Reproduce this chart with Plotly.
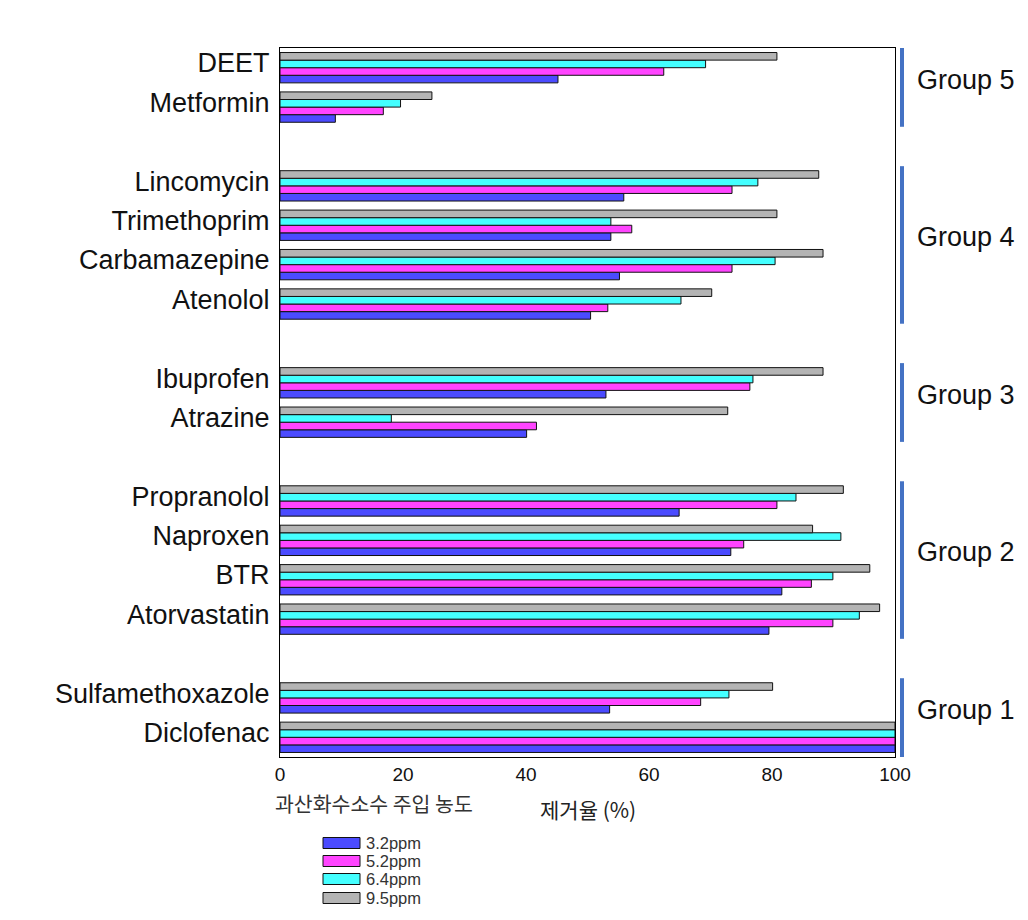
import plotly.graph_objects as go

# ---- data ----
compounds = ["Diclofenac", "Sulfamethoxazole",
             "Atorvastatin", "BTR", "Naproxen", "Propranolol",
             "Atrazine", "Ibuprofen",
             "Atenolol", "Carbamazepine", "Trimethoprim", "Lincomycin",
             "Metformin", "DEET"]
group_of = [1, 1, 2, 2, 2, 2, 3, 3, 4, 4, 4, 4, 5, 5]
group_names = ["Group 1", "Group 2", "Group 3", "Group 4", "Group 5"]

series_names = ["3.2ppm", "5.2ppm", "6.4ppm", "9.5ppm"]
v32 = [100, 53.6, 79.5, 81.6, 73.3, 64.9, 40.1, 53.0, 50.5, 55.2, 53.8, 55.9, 9.0, 45.2]
v52 = [100, 68.4, 89.9, 86.4, 75.4, 80.8, 41.7, 76.4, 53.3, 73.5, 57.2, 73.5, 16.8, 62.4]
v64 = [100, 73.0, 94.2, 89.9, 91.2, 83.9, 18.1, 76.9, 65.2, 80.5, 53.8, 77.7, 19.6, 69.2]
v95 = [100, 80.1, 97.5, 95.9, 86.6, 91.6, 72.8, 88.3, 70.2, 88.3, 80.8, 87.6, 24.7, 80.8]
series_values = [v32, v52, v64, v95]
x_ticks = [0, 20, 40, 60, 80, 100]

colors = ["#4B4BFF", "#FF44FF", "#44FFFF", "#B4B4B4"]

# positions: one empty slot between groups
ypos = []
p = 0
prev = group_of[0]
for g in group_of:
    if g != prev:
        p += 1
        prev = g
    ypos.append(p)
    p += 1
ymax = ypos[-1]

# ---- layout geometry (screen pixels; page body has an 8px offset) ----
W, H = 1028, 920
OFF = 8
L, R, T, B = 280, 895, 48, 757
LABEL_SHIFT = 0.12  # category labels sit slightly above bar-group centre


def px_x(px):
    return (px - L) / (R - L)


def px_y(py):
    return (B - py) / (B - T)


FONT = "Liberation Sans, Arial"

fig = go.Figure()
for name, vals, col in zip(series_names, series_values, colors):
    fig.add_trace(go.Bar(
        x=vals, y=ypos, orientation="h", name=name,
        marker=dict(color=col, line=dict(color="#111111", width=1)),
        showlegend=False,
    ))

shapes = []
annotations = []

# group brackets and labels
for gi, gname in enumerate(group_names, start=1):
    ys = [y for y, g in zip(ypos, group_of) if g == gi]
    y0, y1 = min(ys) - 0.5, max(ys) + 0.5
    shapes.append(dict(type="line", xref="paper", yref="y",
                       x0=px_x(902), x1=px_x(902), y0=y0, y1=y1,
                       line=dict(color="#4472C4", width=4)))
    annotations.append(dict(xref="paper", yref="y", x=px_x(915),
                            y=(y0 + y1) / 2 + 0.2, text=gname, showarrow=False,
                            xanchor="left", yanchor="middle",
                            font=dict(family=FONT, size=27, color="#111111")))

# legend (custom)
leg_y = [843, 861, 879, 898]
for name, col, ly in zip(series_names, colors, leg_y):
    shapes.append(dict(type="rect", xref="paper", yref="paper",
                       x0=px_x(323), x1=px_x(360), y0=px_y(ly + 5.5), y1=px_y(ly - 5.5),
                       fillcolor=col, line=dict(color="#111111", width=1)))
    annotations.append(dict(xref="paper", yref="paper", x=px_x(364), y=px_y(ly),
                            text=name, showarrow=False, xanchor="left", yanchor="middle",
                            font=dict(family=FONT, size=16.5, color="#333333")))

annotations.append(dict(xref="paper", yref="paper", x=px_x(273), y=px_y(803),
                        text="과산화수소수 주입 농도", showarrow=False,
                        xanchor="left", yanchor="middle",
                        font=dict(family="Noto Sans CJK KR", size=20.5, color="#333333")))
annotations.append(dict(xref="paper", yref="paper", x=px_x(538), y=px_y(809),
                        text="제거율 (%)", showarrow=False,
                        xanchor="left", yanchor="middle",
                        font=dict(family="Noto Sans CJK KR", size=21, color="#222222")))

fig.update_layout(
    width=W, height=H,
    margin=dict(l=L - OFF, r=W - R + OFF, t=T - OFF, b=H - B + OFF, pad=0),
    paper_bgcolor="white", plot_bgcolor="white",
    barmode="group", bargap=0.23, bargroupgap=0,
    shapes=shapes, annotations=annotations,
    font=dict(family=FONT, color="#111111"),
)
fig.update_xaxes(range=[0, 100], tickvals=x_ticks, ticks="", showgrid=False,
                 zeroline=False, showline=True, linecolor="black", linewidth=1,
                 mirror=True, tickfont=dict(size=19, color="#111111"))
fig.update_yaxes(range=[-0.5, ymax + 0.5],
                 tickvals=[y + LABEL_SHIFT for y in ypos], ticktext=compounds,
                 ticks="", showgrid=False, zeroline=False, showline=True,
                 linecolor="black", linewidth=1, mirror=True,
                 ticklabelstandoff=4, tickfont=dict(size=27, color="#111111"))

fig.write_html("out.html")
